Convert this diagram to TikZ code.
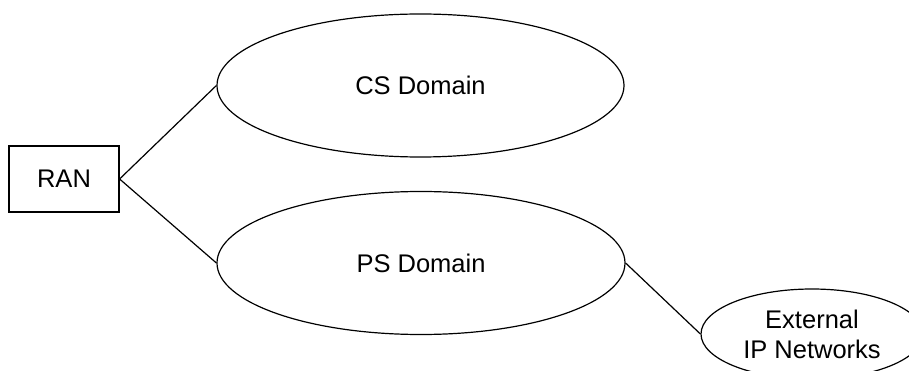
\documentclass[tikz,border=0pt]{standalone}
\usepackage{fontspec}
\setmainfont{Liberation Sans}
\usetikzlibrary{shapes.geometric}
\begin{document}
\begin{tikzpicture}[x=1pt,y=-1pt,
  lbl/.style={font=\fontsize{25.5}{30}\selectfont, text=black},
  dom/.style={lbl, draw=black, line width=1.2pt, ellipse, inner sep=0pt},
  boxnode/.style={lbl, draw=black, line width=1.2pt, rectangle, inner sep=0pt},
  wire/.style={draw=black, line width=1.2pt}]
\clip (0,0) rectangle (909,371);
\node[boxnode, minimum width=110pt, minimum height=66pt] (ran) at (64,179) {RAN};
\node[dom, minimum width=407pt, minimum height=143pt] (cs) at (420.5,85.5) {CS Domain};
\node[dom, minimum width=408pt, minimum height=143pt] (ps) at (421,263) {PS Domain};
\node[dom, minimum width=222pt, minimum height=90pt, align=center] (ext) at (812,334) {External\\IP Networks};
\draw[wire] (ran.east) -- (cs.west);
\draw[wire] (ran.east) -- (ps.west);
\draw[wire] (ps.east) -- (ext.west);
\end{tikzpicture}
\end{document}
